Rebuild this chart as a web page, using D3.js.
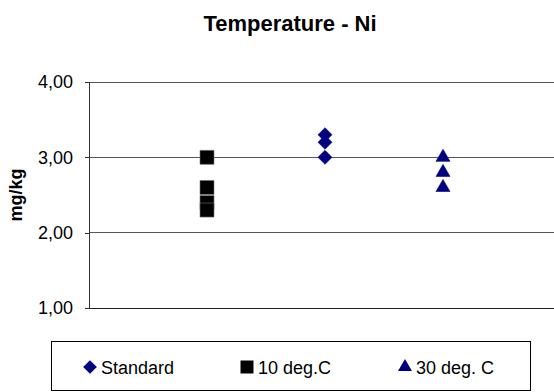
<!DOCTYPE html>
<html>
<head>
<meta charset="utf-8">
<script src="https://cdn.jsdelivr.net/npm/d3@7"></script>
<style>
  body { margin: 0; background: #fff; }
  text { font-family: "Liberation Sans", Arial, sans-serif; }
</style>
</head>
<body>
<div id="chart"></div>
<script>
// series values, x position = category slot
const seriesNames = ["Standard", "10 deg.C", "30 deg. C"];
const standardVals = [3.3, 3.2, 3.0];
const tenDegVals = [3.0, 2.6, 2.4, 2.3];
const thirtyDegVals = [3.0, 2.8, 2.6];
const seriesX = [2, 1, 3];
const yTicks = [1, 2, 3, 4];

const width = 554, height = 392;
const margin = { left: 89, top: 82, right: -7, bottom: 84 };

const svg = d3.select("#chart").append("svg")
    .attr("width", width)
    .attr("height", height);

const x = d3.scaleLinear().domain([0, 4]).range([margin.left, width - margin.right]);
const y = d3.scaleLinear().domain([1, 4]).range([height - margin.bottom, margin.top]);

// gridlines
svg.append("g")
    .selectAll("line")
    .data(yTicks.slice(1))
    .enter().append("line")
    .attr("x1", margin.left).attr("x2", width)
    .attr("y1", d => y(d)).attr("y2", d => y(d))
    .attr("stroke", "#555").attr("stroke-width", 1)
    .attr("shape-rendering", "crispEdges");

// y axis
const yAxis = d3.axisLeft(y)
    .tickValues(yTicks)
    .tickSize(4)
    .tickPadding(12)
    .tickFormat(d => d3.format(".2f")(d).replace(".", ","));
const gy = svg.append("g")
    .attr("transform", `translate(${margin.left},0)`)
    .call(yAxis);
gy.attr("font-size", 18).attr("font-family", "Liberation Sans, Arial, sans-serif");
gy.select(".domain").attr("stroke", "#333").attr("shape-rendering", "crispEdges");
gy.selectAll(".tick line").attr("stroke", "#333").attr("shape-rendering", "crispEdges");
gy.selectAll(".tick text").attr("fill", "#000");

// bottom axis line
svg.append("line")
    .attr("x1", margin.left).attr("x2", width)
    .attr("y1", y(1)).attr("y2", y(1))
    .attr("stroke", "#222").attr("shape-rendering", "crispEdges");

// title
svg.append("text")
    .attr("x", 290).attr("y", 31)
    .attr("text-anchor", "middle")
    .attr("font-size", 22).attr("font-weight", "bold")
    .text("Temperature - Ni");

// y label
svg.append("text")
    .attr("transform", `translate(22,${(y(1) + y(4)) / 2}) rotate(-90)`)
    .attr("text-anchor", "middle")
    .attr("font-size", 18).attr("font-weight", "bold")
    .text("mg/kg");

const diamond = d3.symbol().type(d3.symbolDiamond2).size(125);
const square = d3.symbol().type(d3.symbolSquare2).size(250);
const triangle = d3.symbol().type(d3.symbolTriangle2).size(140);

const series = [
  { name: seriesNames[0], vals: standardVals, xv: seriesX[0], path: diamond(), fill: "#000080", stroke: "#000080" },
  { name: seriesNames[1], vals: tenDegVals, xv: seriesX[1], path: square(), fill: "#000", stroke: "#777" },
  { name: seriesNames[2], vals: thirtyDegVals, xv: seriesX[2], path: triangle(), fill: "#000080", stroke: "#000080" }
];

series.forEach(s => {
  svg.append("g").selectAll("path")
      .data(s.vals)
      .enter().append("path")
      .attr("d", s.path)
      .attr("transform", d => `translate(${x(s.xv)},${y(d)})`)
      .attr("fill", s.fill)
      .attr("stroke", s.stroke)
      .attr("stroke-width", 0.6);
});

// legend
const legend = svg.append("g");
legend.append("rect")
    .attr("x", 51.5).attr("y", 341.5)
    .attr("width", 479).attr("height", 49)
    .attr("fill", "#fff").attr("stroke", "#000");

const legendX = [90, 247, 405];
const smallSym = [
  d3.symbol().type(d3.symbolDiamond2).size(120)(),
  d3.symbol().type(d3.symbolSquare2).size(215)(),
  d3.symbol().type(d3.symbolTriangle2).size(140)()
];
series.forEach((s, i) => {
  legend.append("path")
      .attr("d", smallSym[i])
      .attr("transform", `translate(${legendX[i]},367)`)
      .attr("fill", s.fill);
  legend.append("text")
      .attr("x", legendX[i] + 11).attr("y", 374)
      .attr("font-size", 18)
      .text(s.name);
});
</script>
</body>
</html>
